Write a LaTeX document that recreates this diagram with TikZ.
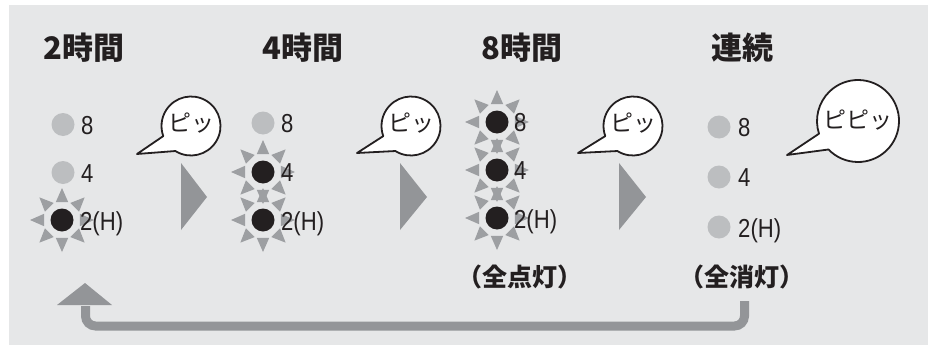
\documentclass[tikz,border=0pt]{standalone}
\usepackage{fontspec}
\setmainfont{Liberation Sans}
\newfontfamily\numfont[FakeStretch=0.85]{Liberation Sans}
\newfontfamily\jp{Noto Sans CJK JP}
\definecolor{bg}{HTML}{E6E7E8}
\definecolor{arrowgray}{HTML}{939598}
\definecolor{raygray}{HTML}{9D9FA2}
\definecolor{offgray}{HTML}{BCBEC0}
\definecolor{ink}{HTML}{231F20}
\begin{document}
\begin{tikzpicture}[x=1pt,y=-1pt,
  title/.style={font=\jp\bfseries\fontsize{31}{31}\selectfont, text=ink, inner sep=0},
  num/.style={font=\numfont\fontsize{26}{26}\selectfont, text=ink, inner sep=0, anchor=base west},
  dotoff/.style={circle, fill=offgray, minimum size=23pt, inner sep=0},
  doton/.style={circle, fill=ink, minimum size=23pt, inner sep=0},
  chev/.style={fill=arrowgray},
  bubble/.style={draw=ink, line width=1.8pt, fill=white, line join=round},
  btext/.style={font=\jp\fontsize{23}{23}\selectfont, inner sep=0, text=ink},
  state/.style={font=\jp\bfseries\fontsize{25}{25}\selectfont, inner sep=0, text=ink},
  loopline/.style={draw=arrowgray, line width=9pt, rounded corners=10pt},
  rays/.pic={\foreach \a in {0,45,...,315}{\fill[raygray] (\a:32pt) -- (\a+19:19pt) -- (\a-19:19pt) -- cycle;}}
]
\useasboundingbox (0,0) rectangle (928,348);
\fill[bg] (9,5) rectangle (928,345);

% titles
\node[title] (t1) at (84,48) {2時間};
\node[title] (t2) at (303,48) {4時間};
\node[title] (t3) at (522,48) {8時間};
\node[title] (t4) at (742,48) {連続};

% rays
\pic at (62,220) {rays};
\pic at (263,172) {rays};
\pic at (263,220) {rays};
\pic at (497,122) {rays};
\pic at (497,170) {rays};
\pic at (497,218) {rays};

% column 1
\node[dotoff] (a8) at (63,124.5) {};
\node[dotoff] (a4) at (63,172.5) {};
\node[doton]  (a2) at (62,220) {};
\node[num] (la8) at (81,134) {8};
\node[num] (la4) at (81,182) {4};
\node[num] (la2) at (80,230) {2(H)};
% column 2
\node[dotoff] (b8) at (263,123) {};
\node[doton]  (b4) at (263,172) {};
\node[doton]  (b2) at (263,220) {};
\node[num] (lb8) at (281,132.5) {8};
\node[num] (lb4) at (281,181.5) {4};
\node[num] (lb2) at (281,230) {2(H)};
% column 3
\node[doton] (c8) at (497,122) {};
\node[doton] (c4) at (497,170) {};
\node[doton] (c2) at (497,218) {};
\node[num] (lc8) at (514,131.5) {8};
\node[num] (lc4) at (514,179.5) {4};
\node[num] (lc2) at (514,228) {2(H)};
% column 4
\node[dotoff] (d8) at (719,127) {};
\node[dotoff] (d4) at (719,177) {};
\node[dotoff] (d2) at (719,227) {};
\node[num] (ld8) at (738,136.5) {8};
\node[num] (ld4) at (738,186.5) {4};
\node[num] (ld2) at (738,237) {2(H)};

% chevrons
\fill[chev] (181,163) -- (207,197) -- (181,230) -- cycle;
\fill[chev] (400,163) -- (427,197) -- (400,230) -- cycle;
\fill[chev] (619,163) -- (646,197) -- (619,230) -- cycle;

% bubbles
\coordinate (p1) at (191,126); \coordinate (q1) at (137,154);
\coordinate (p2) at (411,126); \coordinate (q2) at (357,153);
\coordinate (p3) at (633,126); \coordinate (q3) at (578,153);
\coordinate (p4) at (858,121); \coordinate (q4) at (787,155);
\foreach \p/\q in {p1/q1,p2/q2,p3/q3}{
  \draw[bubble] ([shift={(200:29.5pt)}]\p) -- (\q) -- ([shift={(238:29.5pt)}]\p)
     arc[start angle=238, end angle=560, radius=29.5pt] -- cycle;
}
\draw[bubble] ([shift={(198:41pt)}]p4) -- (q4) -- ([shift={(224:41pt)}]p4)
     arc[start angle=224, end angle=558, radius=41pt] -- cycle;
\node[btext] (s1) at (191,123) {ピッ};
\node[btext] (s2) at (411,123) {ピッ};
\node[btext] (s3) at (633,123) {ピッ};
\node[btext] (s4) at (858,120) {ピピッ};

% states
\node[state] (on) at (520,277) {（全点灯）};
\node[state] (off) at (742,277) {（全消灯）};

% loop arrow
\coordinate (ls) at (744.5,301);
\coordinate (le) at (85.5,306);
\draw[loopline] (ls) -- (744.5,326) -- (85.5,326) -- (le);
\fill[arrowgray] (57,305) -- (85,283) -- (112,305) -- cycle;
\end{tikzpicture}
\end{document}
